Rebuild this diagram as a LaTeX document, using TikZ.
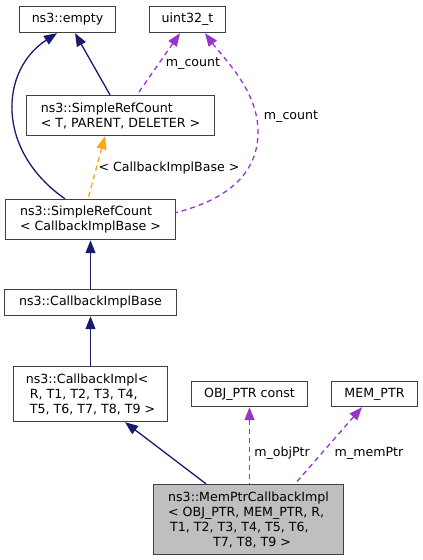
\documentclass[tikz,border=0pt]{standalone}
\usepackage{fontspec}
\setmainfont{DejaVu Sans}
\usetikzlibrary{arrows.meta}
\definecolor{edgeblue}{rgb}{0.10, 0.10, 0.44}
\definecolor{memberpurple}{rgb}{0.60, 0.20, 0.80}
\definecolor{tmplorange}{rgb}{1.00, 0.65, 0.00}
\definecolor{focusgray}{rgb}{0.75, 0.75, 0.75}

\begin{document}
\begin{tikzpicture}[x=1pt, y=-1pt,
  font=\fontsize{12.6}{15}\selectfont,
  cls/.style={draw=black!75, fill=white, line width=1.4pt, inner sep=0pt, align=left},
  inherit/.style={draw=edgeblue, line width=1.3pt, arrows={Triangle[length=13pt,width=10pt,fill=edgeblue]-}},
  member/.style={draw=memberpurple, line width=1.3pt, dash pattern=on 5pt off 4pt, arrows={Triangle[length=13pt,width=10pt,fill=memberpurple]-}},
  tmpl/.style={draw=tmplorange, line width=1.3pt, dash pattern=on 5pt off 4pt, arrows={Triangle[length=13pt,width=10pt,fill=tmplorange]-}},
  lbl/.style={anchor=base, inner sep=0pt}
]

\useasboundingbox (0,0) rectangle (423,560);

% Classes
\node[cls, minimum width=96pt, minimum height=26pt] (empty) at (67.5,19.5) {ns3::empty};
\node[cls, minimum width=76pt, minimum height=26pt] (uint) at (187.5,19.5) {uint32\_t};
\node[cls, minimum width=188pt, minimum height=40pt] (srcT) at (120.5,115.5) {ns3::SimpleRefCount\\< T, PARENT, DELETER >};
\node[cls, minimum width=170pt, minimum height=40pt] (srcC) at (90.5,219.5) {ns3::SimpleRefCount\\< CallbackImplBase >};
\node[cls, minimum width=172pt, minimum height=26pt] (base) at (90.5,302.5) {ns3::CallbackImplBase};
\node[cls, minimum width=154pt, minimum height=55pt] (impl) at (90.5,394) {ns3::CallbackImpl<\\\hspace{4pt}R, T1, T2, T3, T4,\\\hspace{4pt}T5, T6, T7, T8, T9 >};
\node[cls, minimum width=116pt, minimum height=25pt] (obj) at (249.5,394) {OBJ\_PTR const};
\node[cls, minimum width=86pt, minimum height=25pt] (mem) at (374.5,394) {MEM\_PTR};
\node[cls, fill=focusgray, minimum width=190pt, minimum height=70pt] (cb) at (248.5,519.5) {ns3::MemPtrCallbackImpl\\< OBJ\_PTR, MEM\_PTR, R,\\\hspace{2pt}T1, T2, T3, T4, T5, T6,\\\hspace{45pt}T7, T8, T9 >};

% Inheritance
\draw[inherit] ([xshift=7.5pt]empty.south) -- ([xshift=-10.5pt]srcT.north);
\draw[inherit] ([xshift=-10.5pt]empty.south) .. controls (0,70) and (-5,150) .. ([xshift=-25.5pt]srcC.north);
\draw[inherit] (srcC.south) -- (base.north);
\draw[inherit] (base.south) -- (impl.north);
\draw[inherit] ([xshift=34.5pt]impl.south) -- ([xshift=-42.5pt]cb.north);

% Members
\draw[member] ([xshift=-7.5pt]uint.south) -- ([xshift=16.5pt]srcT.north);
\draw[member] ([xshift=17.5pt]uint.south) .. controls (225,60) and (257,90) .. (258,130)
  .. controls (259,175) and (225,200) .. ([yshift=7pt]srcC.east);
\draw[member] (obj.south) -- ([xshift=1pt]cb.north);
\draw[member] ([xshift=-12.5pt]mem.south) -- ([xshift=46.5pt]cb.north);

% Template
\draw[tmpl] ([xshift=-15.5pt]srcT.south) -- ([xshift=-2.5pt]srcC.north);

% Labels
\node[lbl] (l1) at (193,66) {m\_count};
\node[lbl] (l2) at (291,119) {m\_count};
\node[lbl] (l3) at (169,171) {< CallbackImplBase >};
\node[lbl] (l4) at (282,456) {m\_objPtr};
\node[lbl] (l5) at (369,456) {m\_memPtr};

\end{tikzpicture}
\end{document}
